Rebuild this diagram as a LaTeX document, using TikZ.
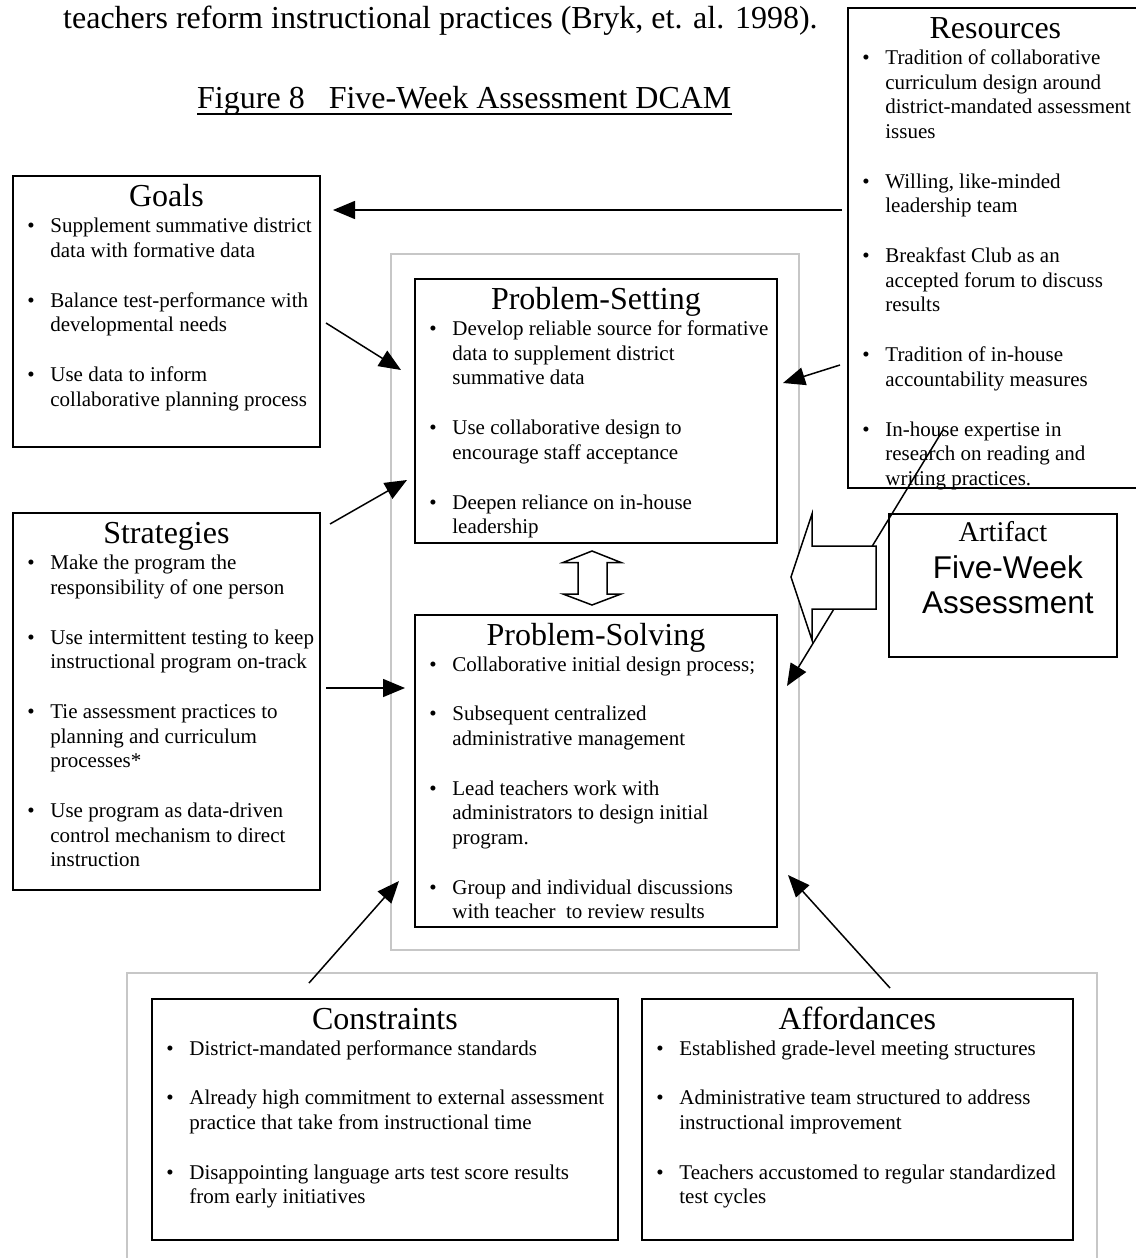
\documentclass[tikz,border=0pt]{standalone}
\usepackage{fontspec}
\setmainfont{Liberation Serif}
\newfontfamily\sansart{Liberation Sans}
\usetikzlibrary{arrows.meta,calc}

% type sizes used in the panels
\newcommand{\bodyfont}{\fontsize{21}{24.5}\selectfont}
\newcommand{\headfont}{\fontsize{32}{32}\selectfont}
% one bulleted entry; lines are broken by hand with \\
\newcommand{\bpoint}[1]{\par\noindent\hspace*{14.5pt}\makebox[23pt][l]{\textbullet}\begin{tabular}[t]{@{}l@{}}#1\end{tabular}\par}
\newcommand{\bgap}{\vspace{24.5pt}}
% panel body: width, height, heading, entries
\newcommand{\panelbody}[4]{\parbox[t][#2][t]{#1}{\centering\headfont\rule{0pt}{30.5pt}#3\par\vspace{2pt}\bodyfont\raggedright #4}}

\begin{document}
\begin{tikzpicture}[x=1pt,y=-1pt,
  panel/.style={draw, line width=1.8pt, inner sep=0pt, anchor=north west},
  frame/.style={draw=black!22, line width=2pt},
  link/.style={line width=1.5pt, -{Triangle[length=22pt,width=18pt]}},
  blockarrow/.style={draw, line width=1.5pt, fill=white, line join=miter},
  leadtext/.style={anchor=base west, inner sep=0pt, font=\fontsize{32}{32}\selectfont}]

\useasboundingbox (0,0) rectangle (1135,1258);

% running text and caption
\node[leadtext] (lead) at (63,28) {teachers reform instructional practices (Bryk, et. al. 1998).};
\node[leadtext] (fig) at (197,108) {Figure 8\ \ \ Five-Week Assessment DCAM};
\draw[line width=1.8pt] ($(fig.base west)+(0,6)$) -- ($(fig.base east)+(0,6)$);

% grey frames
\draw[frame] (391,254) rectangle (799,950);
\draw[frame] (127,1262) -- (127,973) -- (1097,973) -- (1097,1262);

% panels
\node[panel] (goals) at (12,175) {\panelbody{307pt}{271pt}{Goals}{%
  \bpoint{Supplement summative district\\data with formative data}\bgap
  \bpoint{Balance test-performance with\\developmental needs}\bgap
  \bpoint{Use data to inform\\collaborative planning process}}};

\node[panel] (strategies) at (12,512) {\panelbody{307pt}{377pt}{Strategies}{%
  \bpoint{Make the program the\\responsibility of one person}\bgap
  \bpoint{Use intermittent testing to keep\\instructional program on-track}\bgap
  \bpoint{Tie assessment practices to\\planning and curriculum\\processes*}\bgap
  \bpoint{Use program as data-driven\\control mechanism to direct\\instruction}}};

% this panel runs past the right edge of the page
\node[panel] (resources) at (847,7) {\panelbody{295pt}{480pt}{Resources}{%
  \bpoint{Tradition of collaborative\\curriculum design around\\district-mandated assessment\\issues}\bgap
  \bpoint{Willing, like-minded\\leadership team}\bgap
  \bpoint{Breakfast Club as an\\accepted forum to discuss\\results}\bgap
  \bpoint{Tradition of in-house\\accountability measures}\bgap
  \bpoint{In-house expertise in\\research on reading and\\writing practices.}}};

\node[panel] (setting) at (414,278) {\panelbody{362pt}{264pt}{Problem-Setting}{%
  \bpoint{Develop reliable source for formative\\data to supplement district\\summative data}\bgap
  \bpoint{Use collaborative design to\\encourage staff acceptance}\bgap
  \bpoint{Deepen reliance on in-house\\leadership}}};

\node[panel] (solving) at (414,614) {\panelbody{362pt}{312pt}{Problem-Solving}{%
  \bpoint{Collaborative initial design process;}\bgap
  \bpoint{Subsequent centralized\\administrative management}\bgap
  \bpoint{Lead teachers work with\\administrators to design initial\\program.}\bgap
  \bpoint{Group and individual discussions\\with teacher\ \ to review results}}};

\node[panel] (constraints) at (151,998) {\panelbody{466pt}{241pt}{Constraints}{%
  \bpoint{District-mandated performance standards}\bgap
  \bpoint{Already high commitment to external assessment\\practice that take from instructional time}\bgap
  \bpoint{Disappointing language arts test score results\\from early initiatives}}};

\node[panel] (affordances) at (641,998) {\panelbody{431pt}{241pt}{Affordances}{%
  \bpoint{Established grade-level meeting structures}\bgap
  \bpoint{Administrative team structured to address\\instructional improvement}\bgap
  \bpoint{Teachers accustomed to regular standardized\\test cycles}}};

\node[panel] (artifact) at (888,513) {\parbox[t][143pt][t]{228pt}{\centering
  \fontsize{28.5}{28.5}\selectfont\rule{0pt}{28pt}Artifact\par\vspace{2pt}
  \sansart\fontsize{31.5}{35}\selectfont\hspace*{10pt}Five-Week\\\hspace*{10pt}Assessment\par}};

% connector end points
\coordinate (resOut)   at (842,210);
\coordinate (goalsIn)  at (333,210);
\coordinate (goalsOut) at (326,323);
\coordinate (setIn1)   at (401,370);
\coordinate (stratUp)  at (330,524);
\coordinate (setIn2)   at (407,480);
\coordinate (stratOut) at (326,688);
\coordinate (solvIn1)  at (405,688);
\coordinate (resSide)  at (840,365);
\coordinate (setIn3)   at (783,383);
\coordinate (resLow)   at (943,430);
\coordinate (solvIn2)  at (787,686);
\coordinate (conOut)   at (309,983);
\coordinate (solvIn3)  at (399,881);
\coordinate (affOut)   at (890,988);
\coordinate (solvIn4)  at (788,875);

% connectors
\draw[link] (resOut) -- (goalsIn);
\draw[link] (goalsOut) -- (setIn1);
\draw[link] (stratUp) -- (setIn2);
\draw[link] (stratOut) -- (solvIn1);
\draw[link] (resSide) -- (setIn3);
\draw[link] (resLow) -- (solvIn2);
\draw[link] (conOut) -- (solvIn3);
\draw[link] (affOut) -- (solvIn4);

% hollow block arrow from the artifact
\draw[blockarrow] (791,577) -- (812,514) -- (812,546) -- (876,546) -- (876,609)
  -- (812,609) -- (812,640) -- cycle;

% two-way block arrow between setting and solving
\draw[blockarrow] (592,551) -- (621,562.5) -- (607,562.5) -- (607,594) -- (621,594)
  -- (592,605) -- (563,594) -- (578,594) -- (578,562.5) -- (563,562.5) -- cycle;

\end{tikzpicture}
\end{document}
